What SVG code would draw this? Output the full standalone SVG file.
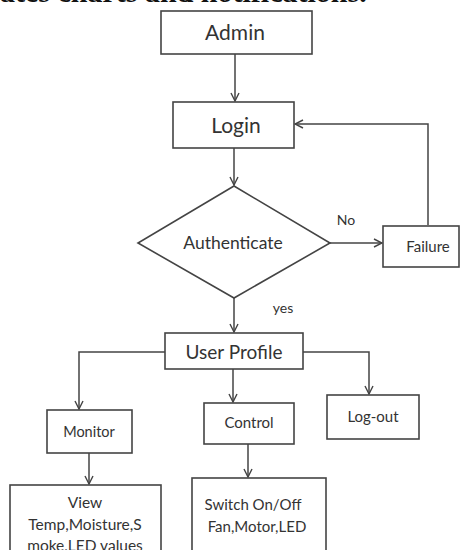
<svg xmlns="http://www.w3.org/2000/svg" width="465" height="550" viewBox="0 0 465 550">
<defs>
<marker id="arr" viewBox="0 0 10 10" refX="9" refY="5" markerWidth="10" markerHeight="10" markerUnits="userSpaceOnUse" orient="auto">
<path d="M1,1 L9,5 L1,9" fill="none" stroke="#444" stroke-width="1.4"/>
</marker>
</defs>
<style>
.box{fill:#fff;stroke:#444;stroke-width:1.6}
.t{font-family:Lato,"Open Sans","Liberation Sans",sans-serif;fill:#333;text-anchor:middle}
.c{fill:none;stroke:#444;stroke-width:1.5;marker-end:url(#arr)}
</style>
<rect width="465" height="550" fill="#fff"/>
<text x="0" y="1.5" font-family="'Liberation Serif',serif" font-weight="bold" font-size="30" fill="#111">ates charts and notifications.</text>
<g id="connectors">
<path class="c" d="M235,54 V101"/>
<path class="c" d="M234,148 V185"/>
<path class="c" d="M330,243 H382"/>
<path class="c" d="M428,225 V124 H295"/>
<path class="c" d="M234,298 V332"/>
<path class="c" d="M165,352 H79 V409"/>
<path class="c" d="M233,369 V402"/>
<path class="c" d="M303,352 H369 V394"/>
<path class="c" d="M89,453 V484"/>
<path class="c" d="M248,444 V477"/>
<text class="t" x="346" y="225" font-size="14">No</text>
<text class="t" x="283" y="313" font-size="14">yes</text>
</g>
<g id="admin"><rect class="box" x="161" y="11" width="151" height="43"/><text class="t" x="235" y="40" font-size="21">Admin</text></g>
<g id="login"><rect class="box" x="173" y="102" width="121" height="46"/><text class="t" x="236" y="133" font-size="21">Login</text></g>
<g id="authenticate"><polygon class="box" points="234,186 330,243 234,298 138,243"/><text class="t" x="233" y="249" font-size="17.5">Authenticate</text></g>
<g id="failure"><rect class="box" x="383" y="226" width="76" height="41"/><text class="t" x="428" y="252" font-size="15">Failure</text></g>
<g id="user-profile"><rect class="box" x="165" y="333" width="138" height="36"/><text class="t" x="234" y="359" font-size="19">User Profile</text></g>
<g id="monitor"><rect class="box" x="47" y="410" width="85" height="43"/><text class="t" x="89" y="437" font-size="14.5">Monitor</text></g>
<g id="control"><rect class="box" x="204" y="403" width="90" height="41"/><text class="t" x="249" y="428" font-size="15">Control</text></g>
<g id="logout"><rect class="box" x="327" y="395" width="92" height="44"/><text class="t" x="373" y="422" font-size="15">Log-out</text></g>
<g id="view"><rect class="box" x="10" y="485" width="151" height="80"/><text class="t" x="85" y="508" font-size="15.5">View</text><text class="t" x="85" y="530" font-size="15.5">Temp,Moisture,S</text><text class="t" x="85" y="551" font-size="15.5">moke,LED values</text></g>
<g id="switch"><rect class="box" x="192" y="478" width="134" height="80"/><text class="t" x="253" y="510" font-size="15">Switch On/Off</text><text class="t" x="257" y="532" font-size="15">Fan,Motor,LED</text></g>
</svg>
